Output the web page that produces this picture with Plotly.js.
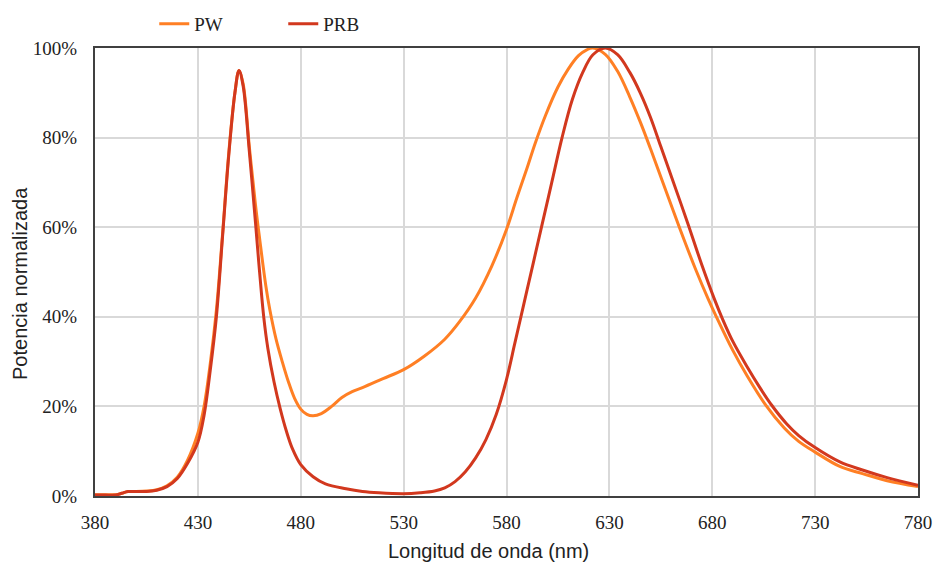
<!DOCTYPE html>
<html>
<head>
<meta charset="utf-8">
<script src="https://cdn.plot.ly/plotly-3.0.1.min.js"></script>
<style>html,body{margin:0;padding:0;background:#fff;}#chart{width:934px;height:562px;}</style>
</head>
<body>
<div id="chart"></div>
<script>
// Wavelength (nm) and normalized power (%)
const wlPW = [380,385,390,393,396,400,405,410,415,420,425,430,433,436,439,442,445,448,450,452,455,458,460,463,465,468,471,474,477,480,483,486,490,495,500,505,510,520,530,540,550,557,565,573,580,585,590,594,599,605,610,615,619,622,628,634,640,645,650,656,664,672,678,682,690,697,706,715,722,730,742,753,765,780];
const valPW = [0.3,0.3,0.3,0.6,1.0,1.0,1.1,1.4,2.3,4.2,8,14,20,29.5,41.5,58.5,76.5,90,95,92,78,65,57.5,47,41.5,35,30,25.5,21.8,19.4,18.2,17.9,18.4,20,22,23.3,24.2,26.2,28.2,31.2,35,38.8,44.2,51.5,59.5,66.5,73.2,78.8,85,91.3,95.3,98.3,99.6,100,98.6,94.8,89,83.5,77.5,70,60,50.5,44,40,32.5,26.8,20.3,15.2,12.2,9.8,6.6,5,3.4,2.1];

const wlPRB = [380,385,390,393,396,400,405,410,415,420,425,430,433,436,439,442,445,448,450,452,455,458,460,462,464,467,470,473,476,480,486,492,502,510,518,530,538,545,550,555,560,565,570,575,580,584,587,590,593,597,602,607,612,617,622,628,634,640,645,650,655,660,668,675,681,685,690,697,703,709,716,722,730,742,753,765,780];
const valPRB = [0.2,0.2,0.2,0.6,1.0,1.0,1.0,1.3,2.1,3.9,7.3,12,18,28,40,58,76,90,95,91.5,77,61,50,40,33,25.5,19.5,14.5,10.5,7,4.3,2.7,1.6,1.0,0.7,0.5,0.7,1.1,1.8,3.2,5.4,8.5,12.6,18.2,26,34,40,46,52,60,70,80,88.5,94.5,98.5,100,98.5,94.5,90,84.5,78,71.5,61,51.5,44,39.5,34.5,28.8,24.3,20.2,16.2,13.5,10.8,7.6,5.8,4.1,2.4];

const seriesNames = ['PW', 'PRB'];
const xTicks = [380,430,480,530,580,630,680,730,780];
const yTicks = [0,20,40,60,80,100];

const serif = 'Liberation Serif, Times New Roman, serif';
const sans = 'Liberation Sans, Arial, sans-serif';

const traces = [
  {x: wlPW, y: valPW, name: seriesNames[0], type: 'scatter', mode: 'lines',
   line: {color: '#FF7F24', width: 3, shape: 'spline', smoothing: 1}},
  {x: wlPRB, y: valPRB, name: seriesNames[1], type: 'scatter', mode: 'lines',
   line: {color: '#D2381E', width: 3, shape: 'spline', smoothing: 1}}
];

const layout = {
  width: 934, height: 562,
  margin: {l: 95, r: 16, t: 48, b: 66, pad: 0, autoexpand: false},
  paper_bgcolor: '#ffffff', plot_bgcolor: '#ffffff',
  showlegend: true,
  legend: {orientation: 'h', x: 0.072, xanchor: 'left', y: 1.0536, yanchor: 'middle',
           font: {family: serif, size: 19, color: '#222'}, entrywidth: 84, bgcolor: 'rgba(0,0,0,0)'},
  xaxis: {range: [380, 780], tickvals: xTicks, ticktext: xTicks.map(String),
          showgrid: true, gridcolor: '#d9d9d9', gridwidth: 2,
          showline: true, mirror: true, linecolor: '#404040', linewidth: 2,
          ticks: 'outside', ticklen: 8, tickcolor: 'rgba(0,0,0,0)',
          tickfont: {family: serif, size: 19, color: '#222'}, zeroline: false, fixedrange: true},
  yaxis: {range: [0, 100], tickvals: yTicks, ticktext: yTicks.map(v => v + '%'),
          showgrid: true, gridcolor: '#d9d9d9', gridwidth: 2,
          showline: true, mirror: true, linecolor: '#404040', linewidth: 2,
          ticks: 'outside', ticklen: 12, tickcolor: 'rgba(0,0,0,0)',
          tickfont: {family: serif, size: 19, color: '#222'}, zeroline: false, fixedrange: true},
  annotations: [
    {text: 'Longitud de onda (nm)', xref: 'paper', yref: 'paper', x: (488 - 95) / 823, y: -0.122,
     xanchor: 'center', yanchor: 'middle', showarrow: false, font: {family: sans, size: 20, color: '#222'}},
    {text: 'Potencia normalizada', xref: 'paper', yref: 'paper', x: (20 - 95) / 823, y: (496 - 284) / 448,
     xanchor: 'center', yanchor: 'middle', textangle: -90, showarrow: false, font: {family: sans, size: 20, color: '#222'}}
  ]
};

Plotly.newPlot('chart', traces, layout, {displayModeBar: false, staticPlot: true});
</script>
</body>
</html>
